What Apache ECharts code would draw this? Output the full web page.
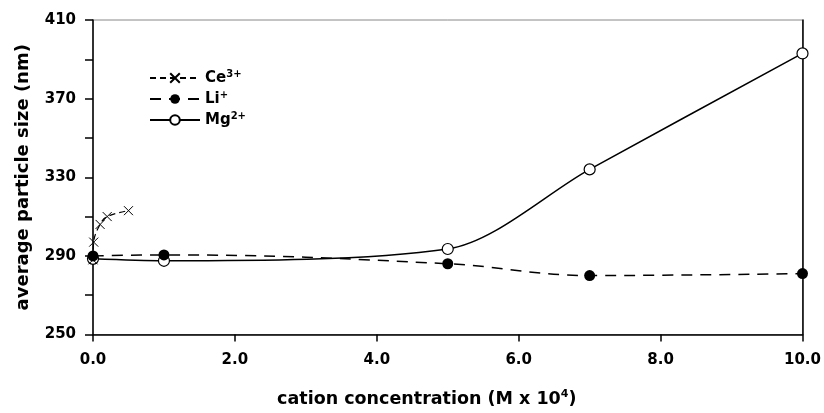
<!DOCTYPE html>
<html>
<head>
<meta charset="utf-8">
<script src="https://cdn.jsdelivr.net/npm/echarts@6/dist/echarts.min.js"></script>
<style>
  html, body { margin: 0; padding: 0; background: #fff; }
  #container { width: 824px; height: 413px; }
</style>
</head>
<body>
<div id="container"></div>
<script>
// data
var ceX = [0, 0.01, 0.1, 0.2, 0.5];
var ceY = [288, 297, 306, 310, 313];
var liX = [0, 1, 5, 7, 10];
var liY = [290, 290.5, 286, 280, 281];
var mgX = [0, 1, 5, 7, 10];
var mgY = [288.5, 287.5, 293.5, 334, 393];

var yTicks = [250, 290, 330, 370, 410];
var xTicks = [0, 2, 4, 6, 8, 10];

function pairs(xs, ys) {
  return xs.map(function(x, i) {
    return [x, ys[i]];
  });
}

var font = "DejaVu Sans, sans-serif";
var chartDom = document.getElementById("container");
var myChart = echarts.init(chartDom);
var option;

option = {
  backgroundColor: "#fff",
  animation: false,
  textStyle: { fontFamily: font },
  grid: {
    left: 93,
    right: 21,
    top: 20,
    bottom: 71,
    show: true,
    borderColor: "#888",
    borderWidth: 1
  },
  legend: {
    orient: "vertical",
    left: 144,
    top: 64,
    itemWidth: 50,
    itemHeight: 12,
    itemGap: 4.5,
    data: ["Ce", "Li", "Mg"],
    textStyle: {
      fontFamily: font,
      fontWeight: "bold",
      fontSize: 15,
      color: "#000",
      rich: {
        b: { fontFamily: font, fontWeight: "bold", fontSize: 15, color: "#000" },
        sup: { fontFamily: font, fontWeight: "bold", fontSize: 10, color: "#000", verticalAlign: "bottom", padding: [0, 0, 8, 0] }
      }
    },
    formatter: function(name) {
      var s = { Ce: "3+", Li: "+", Mg: "2+" }[name];
      return "{b|" + name + "}{sup|" + s + "}";
    }
  },
  xAxis: {
    type: "value",
    min: 0,
    max: 10,
    interval: 2,
    name: "{n|cation concentration (M x 10}{s|4}{n|)}",
    nameLocation: "middle",
    nameGap: 54,
    nameTextStyle: {
      padding: [0, 42, 0, 0],
      rich: {
        n: { fontFamily: font, fontWeight: "bold", fontSize: 17.5, color: "#000" },
        s: { fontFamily: font, fontWeight: "bold", fontSize: 11, color: "#000", verticalAlign: "bottom", padding: [0, 0, 10, 0] }
      }
    },
    axisLine: { onZero: false, lineStyle: { color: "#000", width: 1.5 } },
    axisTick: { inside: false, length: 7, lineStyle: { color: "#000", width: 1.5 } },
    axisLabel: {
      margin: 18,
      fontFamily: font,
      fontWeight: "bold",
      fontSize: 15,
      color: "#000",
      formatter: function(v) {
        return xTicks.indexOf(v) >= 0 ? v.toFixed(1) : "";
      }
    },
    splitLine: { show: false }
  },
  yAxis: [
    {
      type: "value",
      min: 250,
      max: 410,
      interval: 40,
      name: "average particle size (nm)",
      nameLocation: "middle",
      nameGap: 61,
      nameTextStyle: { fontFamily: font, fontWeight: "bold", fontSize: 18, color: "#000" },
      axisLine: { show: true, lineStyle: { color: "#000", width: 1.5 } },
      axisTick: { show: true, length: 8, lineStyle: { color: "#000", width: 1.5 } },
      minorTick: { show: true, splitNumber: 2, length: 8, lineStyle: { color: "#000", width: 1.5 } },
      axisLabel: {
        margin: 17,
        fontFamily: font,
        fontWeight: "bold",
        fontSize: 15,
        color: "#000",
        formatter: function(v) {
          return yTicks.indexOf(v) >= 0 ? String(v) : "";
        }
      },
      splitLine: { show: false }
    },
    {
      type: "value",
      min: 250,
      max: 410,
      position: "right",
      axisLine: { show: true, lineStyle: { color: "#000", width: 1.5 } },
      axisTick: { show: false },
      axisLabel: { show: false },
      splitLine: { show: false }
    }
  ],
  series: [
    {
      name: "Ce",
      type: "line",
      data: pairs(ceX, ceY),
      smooth: 0.4,
      symbol: "path://M0,0L10,10M10,0L0,10",
      symbolSize: 9,
      itemStyle: { color: "#000", borderColor: "#000", borderWidth: 1 },
      lineStyle: { color: "#000", width: 1.2, type: [6, 4] },
      z: 3
    },
    {
      name: "Li",
      type: "line",
      data: pairs(liX, liY),
      smooth: 0.4,
      symbol: "circle",
      symbolSize: 11,
      itemStyle: { color: "#000" },
      lineStyle: { color: "#000", width: 1.5, type: [11, 8] },
      z: 4
    },
    {
      name: "Mg",
      type: "line",
      data: pairs(mgX, mgY),
      smooth: 0.3,
      symbol: "circle",
      symbolSize: 11,
      itemStyle: { color: "#fff", borderColor: "#000", borderWidth: 1.2 },
      lineStyle: { color: "#000", width: 1.5 },
      z: 2
    }
  ]
};
option && myChart.setOption(option);
</script>
</body>
</html>
